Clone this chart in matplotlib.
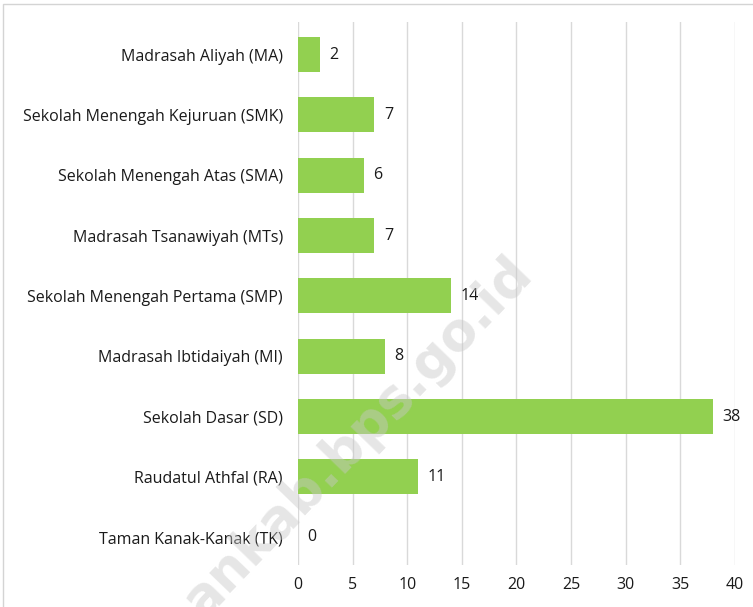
import matplotlib.pyplot as plt
from matplotlib.patches import Rectangle

categories = ['Taman Kanak-Kanak (TK)', 'Raudatul Athfal (RA)', 'Sekolah Dasar (SD)',
              'Madrasah Ibtidaiyah (MI)', 'Sekolah Menengah Pertama (SMP)',
              'Madrasah Tsanawiyah (MTs)', 'Sekolah Menengah Atas (SMA)',
              'Sekolah Menengah Kejuruan (SMK)', 'Madrasah Aliyah (MA)']
values = [0, 11, 38, 8, 14, 7, 6, 7, 2]
xticks = [0, 5, 10, 15, 20, 25, 30, 35, 40]

plt.rcParams['font.family'] = ['Open Sans', 'DejaVu Sans']

fig = plt.figure(figsize=(7.53, 6.07), dpi=100)
ax = fig.add_axes([0.3958, 0.0692, 0.5802, 0.8946])

ypos = range(len(categories))
ax.barh(ypos, values, height=0.58, color='#92D050', zorder=2)
for y, v in zip(ypos, values):
    ax.text(v + 0.85, y, str(v), va='center', ha='left', fontsize=11.5, color='#1a1a1a')

ax.set_xlim(0, 40)
ax.set_ylim(-0.46, 8.54)
ax.set_xticks(xticks)
ax.set_yticks(list(ypos))
ax.set_yticklabels(categories)
ax.tick_params(axis='both', length=0, labelsize=11.5, colors='#1a1a1a')
ax.tick_params(axis='y', pad=11)
ax.tick_params(axis='x', pad=9)
ax.grid(axis='x', color='#d9d9d9', linewidth=1, zorder=0)
for s in ax.spines.values():
    s.set_visible(False)

# outer frame
fig.patches.append(Rectangle((3 / 753, -0.1), 1.2, 1 - 4 / 607 + 0.1, transform=fig.transFigure,
                             fill=False, edgecolor='#d4d4d4', linewidth=1))

# watermark
fig.text(0.475, 0.28, 'ankab.bps.go.id', rotation=46, fontsize=38, fontweight='bold',
         color='#c8c8c8', alpha=0.45, ha='center', va='center', family='DejaVu Sans', zorder=5)

fig.savefig('out.png', dpi=100)
